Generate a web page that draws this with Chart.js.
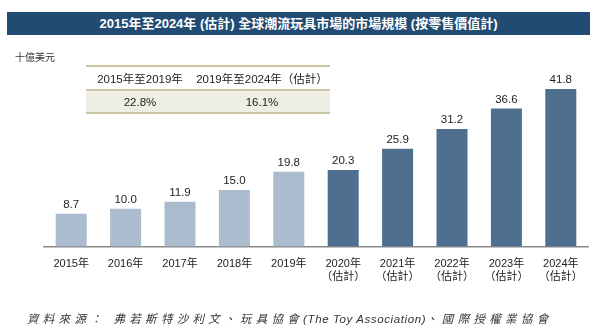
<!DOCTYPE html>
<html>
<head>
<meta charset="utf-8">
<script src="https://cdn.jsdelivr.net/npm/chart.js@4/dist/chart.umd.min.js"></script>
<style>
  html, body { margin: 0; padding: 0; background: #fff; }
  body { width: 594px; height: 330px; position: relative; overflow: hidden;
         font-family: "Liberation Sans", "Noto Sans CJK TC", sans-serif; color: #222; }
  #chartBox { position: absolute; left: 0; top: 0; width: 594px; height: 330px; }
  .title { position: absolute; left: 7px; top: 12px; width: 583px; height: 23px;
           background: #214b72; color: #fff; font-weight: bold; font-size: 13px;
           line-height: 23px; text-align: center; }
  .unit { position: absolute; left: 15px; top: 49px; font-size: 10px; color: #333; }
  table.cagr { position: absolute; left: 86px; top: 65px; width: 244px;
               border-collapse: collapse; font-size: 11.5px; color: #222; }
  table.cagr td { text-align: center; padding: 0; }
  table.cagr tr.head td { height: 22px; border-top: 2px solid #cbc5a6; border-bottom: 2px solid #cbc5a6; }
  table.cagr tr.vals td { height: 21px; background: #efeee5; border-bottom: 2px solid #cbc5a6; }
  .source { position: absolute; left: 27px; top: 310px; font-size: 11.5px; font-style: italic;
            color: #333; white-space: nowrap; }
  .source .cjk { letter-spacing: 4.3px; }
  .source .lat { letter-spacing: 0.6px; }
</style>
</head>
<body>
<div id="chartBox"><canvas id="c" width="594" height="330"></canvas></div>
<div class="title">2015年至2024年 (估計) 全球潮流玩具市場的市場規模 (按零售價值計)</div>
<div class="unit">十億美元</div>
<table class="cagr">
  <tr class="head"><td id="h0" style="width:108px"></td><td id="h1"></td></tr>
  <tr class="vals"><td id="v0"></td><td id="v1"></td></tr>
</table>
<div class="source"><span class="cjk">資料來源： 弗若斯特沙利文、玩具協會</span><span class="lat">(The Toy Association)</span><span class="cjk">、國際授權業協會</span></div>
<script>
// Years on the x axis; estimated years carry a second line
const years = ['2015年', '2016年', '2017年', '2018年', '2019年',
               '2020年', '2021年', '2022年', '2023年', '2024年'];
const estimated = [false, false, false, false, false, true, true, true, true, true];
// Market size, billions of US dollars
const marketSize = [8.7, 10.0, 11.9, 15.0, 19.8, 20.3, 25.9, 31.2, 36.6, 41.8];
// Compound annual growth rates for the two periods
const cagrPeriods = ['2015年至2019年', '2019年至2024年（估計）'];
const cagrValues = ['22.8%', '16.1%'];

document.getElementById('h0').textContent = cagrPeriods[0];
document.getElementById('h1').textContent = cagrPeriods[1];
document.getElementById('v0').textContent = cagrValues[0];
document.getElementById('v1').textContent = cagrValues[1];

const FONT = '"Liberation Sans", "Noto Sans CJK TC", sans-serif';
const labels = years.map((y, i) => estimated[i] ? [y, '（估計）'] : y);
const colors = estimated.map(e => e ? '#4e6f8f' : '#aabccd');

// Value printed above each bar
const valueLabels = {
  id: 'valueLabels',
  afterDatasetsDraw(chart) {
    const ctx = chart.ctx;
    const meta = chart.getDatasetMeta(0);
    ctx.save();
    ctx.font = '11.5px ' + FONT;
    ctx.fillStyle = '#222';
    ctx.textAlign = 'center';
    ctx.textBaseline = 'bottom';
    meta.data.forEach((bar, i) => {
      ctx.fillText(marketSize[i].toFixed(1), bar.x, bar.y - 3);
    });
    ctx.restore();
  }
};

new Chart(document.getElementById('c'), {
  type: 'bar',
  data: {
    labels: labels,
    datasets: [{
      data: marketSize,
      backgroundColor: colors,
      borderWidth: 0,
      barPercentage: 0.57,
      categoryPercentage: 1.0
    }]
  },
  options: {
    responsive: false,
    animation: false,
    events: [],
    layout: { padding: { left: 44, right: 4, top: 58, bottom: 0 } },
    plugins: { legend: { display: false }, tooltip: { enabled: false } },
    scales: {
      x: {
        grid: { display: false, drawTicks: false },
        border: { display: true, color: '#8a8a8a', width: 1.5 },
        ticks: { color: '#222', font: { family: FONT, size: 11 }, padding: 11, maxRotation: 0, autoSkip: false },
        afterFit(scale) { scale.height = 83.5; }
      },
      y: {
        display: false,
        min: 0,
        max: 50
      }
    }
  },
  plugins: [valueLabels]
});
</script>
</body>
</html>
